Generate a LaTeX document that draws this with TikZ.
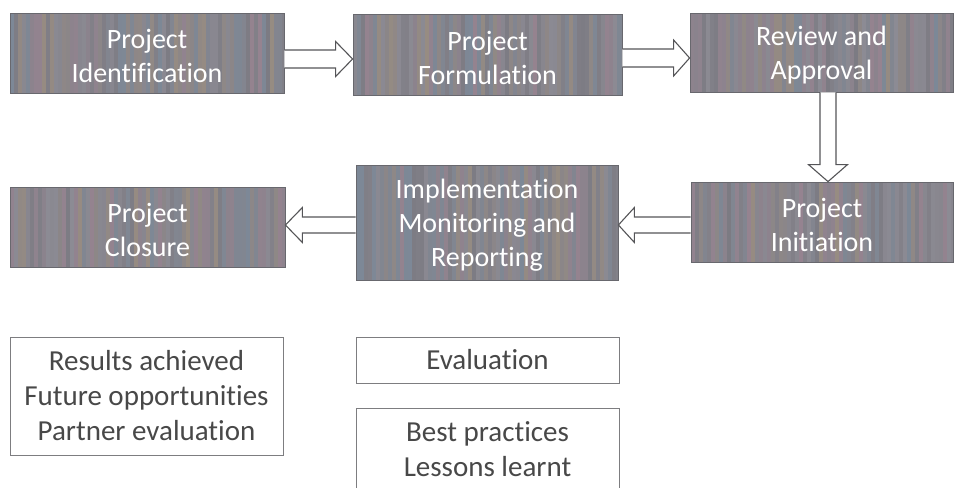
\documentclass[tikz,border=0pt]{standalone}
\usepackage{fontspec}
\setmainfont{Carlito}[Ligatures={NoCommon}]
\usetikzlibrary{calc}
\definecolor{boxfill}{RGB}{134,132,140}
\definecolor{boxline}{RGB}{104,104,110}
\definecolor{arrline}{RGB}{85,85,88}
\definecolor{noteline}{RGB}{125,125,128}
\definecolor{notetext}{RGB}{72,72,72}
\definecolor{stripe1}{RGB}{172,130,150}
\definecolor{stripe2}{RGB}{112,144,168}
\definecolor{stripe3}{RGB}{176,152,116}
\definecolor{stripe4}{RGB}{150,150,160}
\definecolor{stripe5}{RGB}{112,112,120}
\tikzset{
  stripes/.style={path picture={
    \foreach \k in {0,...,70}{
      \pgfmathrandominteger{\stc}{1}{5}
      \pgfmathsetmacro{\sto}{0.12+0.3*rnd}
      \fill[stripe\stc, opacity=\sto] ($(path picture bounding box.south west)+(4*\k,0)$)
        rectangle ($(path picture bounding box.north west)+(4*\k+4,0)$);
    }}},
  phase/.style={draw=boxline, line width=0.8pt, fill=boxfill, stripes, inner sep=0pt},
  ptext/.style={text=white, align=center, font=\fontsize{28}{34}\selectfont, inner sep=0pt, yshift=-3pt},
  note/.style={draw=noteline, line width=0.9pt, fill=white, text=notetext, align=center,
    font=\fontsize{29}{35}\selectfont, inner sep=0pt},
  barrow/.style={draw=arrline, line width=1.1pt, fill=white, line join=miter}
}
\begin{document}
\begin{tikzpicture}[x=1pt,y=-1pt]
\pgfmathsetseed{11}
\useasboundingbox (0,0) rectangle (955,487);
% phase boxes
\node[phase, minimum width=274pt, minimum height=80pt, label={[ptext]center:{Project\\Identification}}] (ident) at (147,53) {};
\node[phase, minimum width=269pt, minimum height=81pt, label={[ptext]center:{Project\\Formulation}}] (form) at (487.5,54.5) {};
\node[phase, minimum width=263pt, minimum height=79pt, label={[ptext]center:{Review and\\Approval}}] (review) at (821.5,52.5) {};
\node[phase, minimum width=262pt, minimum height=80pt, label={[ptext]center:{Project\\Initiation}}] (init) at (822,222) {};
\node[phase, minimum width=262pt, minimum height=115pt, label={[ptext]center:{Implementation\\Monitoring and\\Reporting}}] (impl) at (487,222.5) {};
\node[phase, minimum width=275pt, minimum height=80pt, label={[ptext]center:{Project\\Closure}}] (close) at (147.5,227) {};
% notes
\node[note, minimum width=273pt, minimum height=118pt] (results) at (146.5,396) {Results achieved\\Future opportunities\\Partner evaluation};
\node[note, minimum width=263pt, minimum height=46pt] (eval) at (487.5,360) {Evaluation};
\node[note, minimum width=263pt, minimum height=83pt] (best) at (487.5,449.5) {Best practices\\Lessons learnt};
% block arrows
\draw[barrow] let \p1=(ident.east), \p2=(form.west) in
  ({\x1},{\y1-6pt+9pt}) -- ({\x2-17pt},{\y1-6pt+9pt}) -- ({\x2-17pt},{\y1-6pt+17.5pt})
  -- ({\x2},{\y1-6pt}) -- ({\x2-17pt},{\y1-6pt-17.5pt}) -- ({\x2-17pt},{\y1-6pt-9pt}) -- ({\x1},{\y1-6pt-9pt});
\draw[barrow] let \p1=(form.east), \p2=(review.west) in
  ({\x1},{\y1-3.5pt+9pt}) -- ({\x2-16pt},{\y1-3.5pt+9pt}) -- ({\x2-16pt},{\y1-3.5pt+18pt})
  -- ({\x2},{\y1-3.5pt}) -- ({\x2-16pt},{\y1-3.5pt-18pt}) -- ({\x2-16pt},{\y1-3.5pt-9pt}) -- ({\x1},{\y1-3.5pt-9pt});
\draw[barrow] let \p1=(review.south), \p2=(init.north) in
  ({\x1+6.5pt-8pt},{\y1}) -- ({\x1+6.5pt-8pt},{\y2+17pt}) -- ({\x1+6.5pt-19.5pt},{\y2+17pt})
  -- ({\x1+6.5pt},{\y2}) -- ({\x1+6.5pt+19.5pt},{\y2+17pt}) -- ({\x1+6.5pt+8pt},{\y2+17pt}) -- ({\x1+6.5pt+8pt},{\y1});
\draw[barrow] let \p1=(init.west), \p2=(impl.east) in
  ({\x1},{\y1-3pt+8pt}) -- ({\x2+16pt},{\y1-3pt+8pt}) -- ({\x2+16pt},{\y1-3pt+17.5pt})
  -- ({\x2},{\y1-3pt}) -- ({\x2+16pt},{\y1-3pt-17.5pt}) -- ({\x2+16pt},{\y1-3pt-8pt}) -- ({\x1},{\y1-3pt-8pt});
\draw[barrow] let \p1=(impl.west), \p2=(close.east) in
  ({\x1},{\y1-2.5pt+8pt}) -- ({\x2+17pt},{\y1-2.5pt+8pt}) -- ({\x2+17pt},{\y1-2.5pt+17.5pt})
  -- ({\x2},{\y1-2.5pt}) -- ({\x2+17pt},{\y1-2.5pt-17.5pt}) -- ({\x2+17pt},{\y1-2.5pt-8pt}) -- ({\x1},{\y1-2.5pt-8pt});
\end{tikzpicture}
\end{document}
